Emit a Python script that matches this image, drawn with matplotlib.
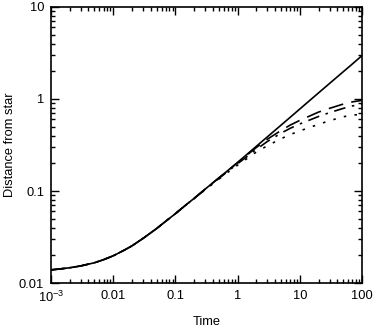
import matplotlib
matplotlib.use("Agg")
import matplotlib.pyplot as plt
from matplotlib.ticker import FixedLocator, FixedFormatter, LogLocator, NullFormatter

plt.rcParams['font.family'] = ['Liberation Sans', 'DejaVu Sans']
plt.rcParams['mathtext.fontset'] = 'custom'
plt.rcParams['mathtext.rm'] = 'Liberation Sans'

# values
time = [0.001, 0.0015, 0.002, 0.003, 0.005, 0.007, 0.01, 0.015, 0.02, 0.03,
        0.05, 0.07, 0.1, 0.15, 0.2, 0.3, 0.5, 0.7, 1, 2, 3, 5, 7, 10, 20,
        30, 50, 70, 100]
d_solid = [0.0139, 0.01432, 0.01466, 0.01535, 0.01663, 0.01795, 0.01977, 0.02275, 0.02535, 0.03048,
           0.03917, 0.04699, 0.05675, 0.07129, 0.08318, 0.1047, 0.1390, 0.1675, 0.2046, 0.306, 0.387,
           0.520, 0.632, 0.778, 1.164, 1.472, 1.977, 2.40, 2.96]
d_dashed = [0.0139, 0.01432, 0.01466, 0.01535, 0.01663, 0.01795, 0.01977, 0.02275, 0.02535, 0.03048,
            0.03917, 0.04699, 0.05675, 0.07129, 0.08318, 0.1047, 0.1388, 0.1667, 0.203, 0.297, 0.365,
            0.455, 0.52, 0.585, 0.72, 0.79, 0.88, 0.93, 0.965]
d_dashdot = [0.0139, 0.01432, 0.01466, 0.01535, 0.01663, 0.01795, 0.01977, 0.02275, 0.02535, 0.03048,
             0.03917, 0.04699, 0.05675, 0.07129, 0.0830, 0.1040, 0.1370, 0.164, 0.198, 0.283, 0.345,
             0.425, 0.48, 0.535, 0.645, 0.71, 0.79, 0.84, 0.875]
d_dotted = [0.0139, 0.01432, 0.01466, 0.01535, 0.01663, 0.01795, 0.01977, 0.02275, 0.02535, 0.03048,
            0.03917, 0.04699, 0.05675, 0.0710, 0.0826, 0.1030, 0.1345, 0.160, 0.191, 0.265, 0.31,
            0.37, 0.41, 0.45, 0.53, 0.58, 0.64, 0.67, 0.675]

x_ticks = [1e-3, 1e-2, 1e-1, 1, 10, 100]
x_labels = [r'$10^{-3}$', '0.01', '0.1', '1', '10', '100']
y_ticks = [0.01, 0.1, 1, 10]
y_labels = ['0.01', '0.1', '1', '10']

fig = plt.figure(figsize=(3.74, 3.28), dpi=100)
ax = fig.add_axes([0.1364, 0.137, 0.8316, 0.842])

ax.plot(time, d_solid, color='black', lw=1.2)
ax.plot(time, d_dashed, color='black', lw=1.2, dashes=(9, 5))
ax.plot(time, d_dashdot, color='black', lw=1.2, dashes=(7, 4, 1.5, 4))
ax.plot(time, d_dotted, color='black', lw=1.2, dashes=(1.5, 5))

ax.set_xscale('log')
ax.set_yscale('log')
ax.set_xlim(1e-3, 100)
ax.set_ylim(0.01, 10)

ax.xaxis.set_major_locator(FixedLocator(x_ticks))
ax.xaxis.set_major_formatter(FixedFormatter(x_labels))
ax.yaxis.set_major_locator(FixedLocator(y_ticks))
ax.yaxis.set_major_formatter(FixedFormatter(y_labels))
ax.xaxis.set_minor_locator(LogLocator(base=10, subs=range(2, 10), numticks=20))
ax.yaxis.set_minor_locator(LogLocator(base=10, subs=range(2, 10), numticks=20))
ax.xaxis.set_minor_formatter(NullFormatter())
ax.yaxis.set_minor_formatter(NullFormatter())

ax.tick_params(which='both', direction='in', top=True, right=True, labelsize=9.3, width=1.0)
ax.tick_params(which='major', length=6, pad=5)
ax.tick_params(which='minor', length=3)
for s in ax.spines.values():
    s.set_linewidth(1.2)

ax.set_xlabel('Time', fontsize=9.3, labelpad=8)
ax.set_ylabel('Distance from star', fontsize=9.3, labelpad=2)

fig.savefig('out.png', dpi=100)
